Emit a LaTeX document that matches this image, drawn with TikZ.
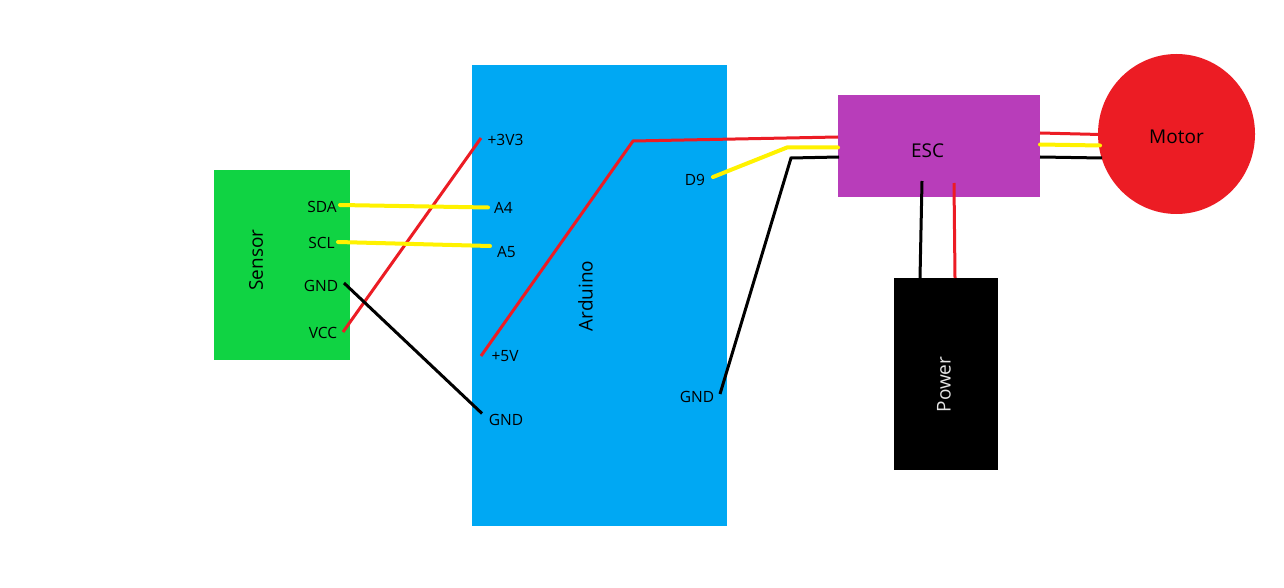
\documentclass[tikz,border=0pt]{standalone}
\usepackage{fontspec}
\setmainfont{Open Sans}
\usetikzlibrary{shapes.geometric}
\definecolor{sensorgreen}{HTML}{10D343}
\definecolor{ardblue}{HTML}{00A8F3}
\definecolor{escpurple}{HTML}{B83DBA}
\definecolor{wirered}{HTML}{EC1C24}
\definecolor{wireyellow}{HTML}{FFF200}
\tikzset{
  pin/.style={font=\fontsize{15.5}{17}\selectfont,inner sep=0pt,text=black},
  title/.style={font=\fontsize{19}{21}\selectfont,inner sep=0pt,text=black},
  redw/.style={wirered,line width=3pt},
  yelw/.style={wireyellow,line width=4pt,line cap=round},
  blkw/.style={black,line width=3pt}
}
\begin{document}
\begin{tikzpicture}[x=1pt,y=-1pt]
\useasboundingbox (0,0) rectangle (1284,588);
\fill[white] (0,0) rectangle (1284,588);
% blocks
\node (sensor) at (282,265) [rectangle,fill=sensorgreen,minimum width=136pt,minimum height=190pt,inner sep=0pt]{};
\node (arduino) at (599.5,295.5) [rectangle,fill=ardblue,minimum width=255pt,minimum height=461pt,inner sep=0pt]{};
\node (esc) at (939,146) [rectangle,fill=escpurple,minimum width=202pt,minimum height=102pt,inner sep=0pt]{};
\node (power) at (946,374) [rectangle,fill=black,minimum width=104pt,minimum height=192pt,inner sep=0pt]{};
\node (motor) at (1176.5,134) [ellipse,fill=wirered,minimum width=157pt,minimum height=160pt,inner sep=0pt]{};
% titles
\node (sensortxt) at (256,260) [title,rotate=90]{Sensor};
\node (arduinotxt) at (585.5,296) [title,rotate=90]{Arduino};
\node (esctxt) at (927.5,151) [title]{ESC};
\node (powertxt) at (944,384.5) [title,rotate=90,text=white!90!black]{Power};
\node (motortxt) at (1176.5,137) [title]{Motor};
% pins
\node (sda) at (322,207) [pin]{SDA};
\node (scl) at (321.5,243) [pin]{SCL};
\node (gnda) at (321,286) [pin]{GND};
\node (vcc) at (323,333) [pin]{VCC};
\node (v33) at (505.5,140) [pin]{+3V3};
\node (a4) at (503.5,208) [pin]{A4};
\node (a5) at (506.5,252) [pin]{A5};
\node (v5) at (505,356) [pin]{+5V};
\node (gndb) at (506,420) [pin]{GND};
\node (d9) at (695,180) [pin]{D9};
\node (gndc) at (697,397) [pin]{GND};
% wire ends
\coordinate (sdaw) at (340,205);
\coordinate (a4w) at (488,207.5);
\coordinate (sclw) at (338,242);
\coordinate (a5w) at (490,246);
\coordinate (gndaw) at (344,283);
\coordinate (gndbw) at (482,413.5);
\coordinate (vccw) at (343,332);
\coordinate (v33w) at (481,138);
\coordinate (v5w) at (481,356);
\coordinate (v5k) at (633,141);
\coordinate (escr) at (838,137);
\coordinate (d9w) at (713,177);
\coordinate (d9k) at (787,147.5);
\coordinate (escy) at (838,147.5);
\coordinate (gndcw) at (720,394);
\coordinate (gndk) at (791,158);
\coordinate (escb) at (839,157);
\coordinate (escpb) at (922,181);
\coordinate (powb) at (920,278);
\coordinate (escpr) at (954,183);
\coordinate (powr) at (955,278);
\coordinate (escmr) at (1040,133);
\coordinate (motr) at (1100,134.5);
\coordinate (escmy) at (1040,144.5);
\coordinate (moty) at (1100,145.5);
\coordinate (escmb) at (1040,157);
\coordinate (motb) at (1102,158);
% wires
\draw[redw] (vccw) -- (v33w);
\draw[blkw] (gndaw) -- (gndbw);
\draw[yelw] (sdaw) -- (a4w);
\draw[yelw] (sclw) -- (a5w);
\draw[redw] (v5w) -- (v5k) -- (escr);
\draw[yelw] (d9w) -- (d9k) -- (escy);
\draw[blkw] (gndcw) -- (gndk) -- (escb);
\draw[blkw] (escpb) -- (powb);
\draw[redw] (escpr) -- (powr);
\draw[redw] (escmr) -- (motr);
\draw[yelw] (escmy) -- (moty);
\draw[blkw] (escmb) -- (motb);
\end{tikzpicture}
\end{document}
